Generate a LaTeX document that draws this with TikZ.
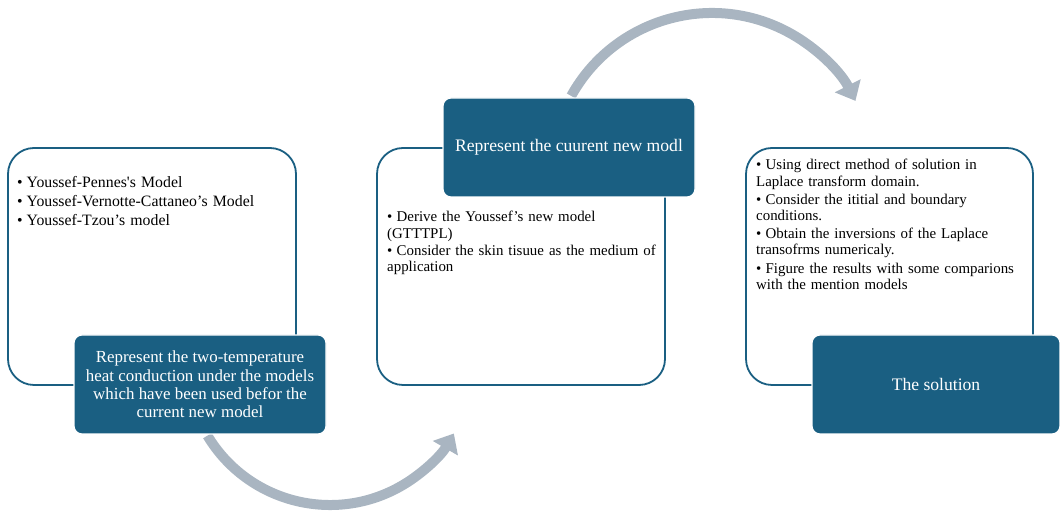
\documentclass[tikz,border=0pt]{standalone}
\usepackage{fontspec}
\setmainfont{Liberation Serif}
\usetikzlibrary{arrows.meta}
\definecolor{boxblue}{HTML}{1A5F82}
\definecolor{arrgray}{HTML}{A9B5C1}
\newcommand\bitem[1]{\par\noindent\hangindent=9.5pt\hangafter=1\makebox[9.5pt][l]{•}#1\par}
\begin{document}
\begin{tikzpicture}[x=1pt,y=1pt,
  outline/.style={draw=boxblue, line width=1.8pt, rounded corners=26pt, fill=white,
    minimum width=288pt, minimum height=237pt, inner sep=0pt},
  headbox/.style={fill=boxblue, draw=white, line width=1.2pt, rounded corners=8pt,
    text=white, font=\fontsize{17.6}{18.5}\selectfont, align=center,
    minimum width=252pt, minimum height=99pt, inner sep=0pt},
  bullets/.style={anchor=north west, inner sep=0pt, text width=#1, align=left},
  flowarc/.style={draw=arrgray, line width=10pt, -{Triangle[length=17pt,width=28pt]}}]
\useasboundingbox (0,0) rectangle (1060,516);
% arc centres
\coordinate (cb) at (330,154);
\coordinate (ct) at (712,342);
% curved arrows
\draw[flowarc] ([shift={(211:143)}]cb) arc[start angle=211, end angle=330, radius=143];
\draw[flowarc] ([shift={(151:161)}]ct) arc[start angle=151, end angle=27, radius=161];
% white outline boxes
\node[outline] (w1) at (152,249.5) {};
\node[outline] (w2) at (521,249.5) {};
\node[outline, minimum width=287pt] (w3) at (889.5,249.5) {};
% bullet texts
\node[bullets=300pt, font=\fontsize{15.8}{17.5}\selectfont] (t1) at (17,346) {%
  \bitem{Youssef-Pennes\textquotesingle s Model}\vspace{1.5pt}
  \bitem{Youssef-Vernotte-Cattaneo's Model}\vspace{1.5pt}
  \bitem{Youssef-Tzou's model}};
\node[bullets=300pt, font=\fontsize{14.9}{16.5}\selectfont] (t2) at (387,311) {%
  \bitem{Derive the Youssef's new model\\(GTTTPL)}\vspace{0.5pt}
  \bitem{Consider the skin tisuue as the medium of\\application}};
\node[bullets=300pt, font=\fontsize{14.9}{16.2}\selectfont] (t3) at (756,362.5) {%
  \bitem{Using direct method of solution in\\Laplace transform domain.}\vspace{2pt}
  \bitem{Consider the ititial and boundary\\conditions.}\vspace{2pt}
  \bitem{Obtain the inversions of the Laplace\\transofrms numericaly.}\vspace{2pt}
  \bitem{Figure the results with some comparions\\with the mention models}};
% blue heading boxes
\node[headbox, font=\fontsize{16.9}{18.2}\selectfont] (b1) at (200,131.5) {Represent the two-temperature\\heat conduction under the models\\which have been used befor the\\current new model};
\node[headbox] (b2) at (569,368.5) {Represent the cuurent new modl};
\node[headbox, minimum width=248pt] (b3) at (936,131.5) {The solution};
\end{tikzpicture}
\end{document}
